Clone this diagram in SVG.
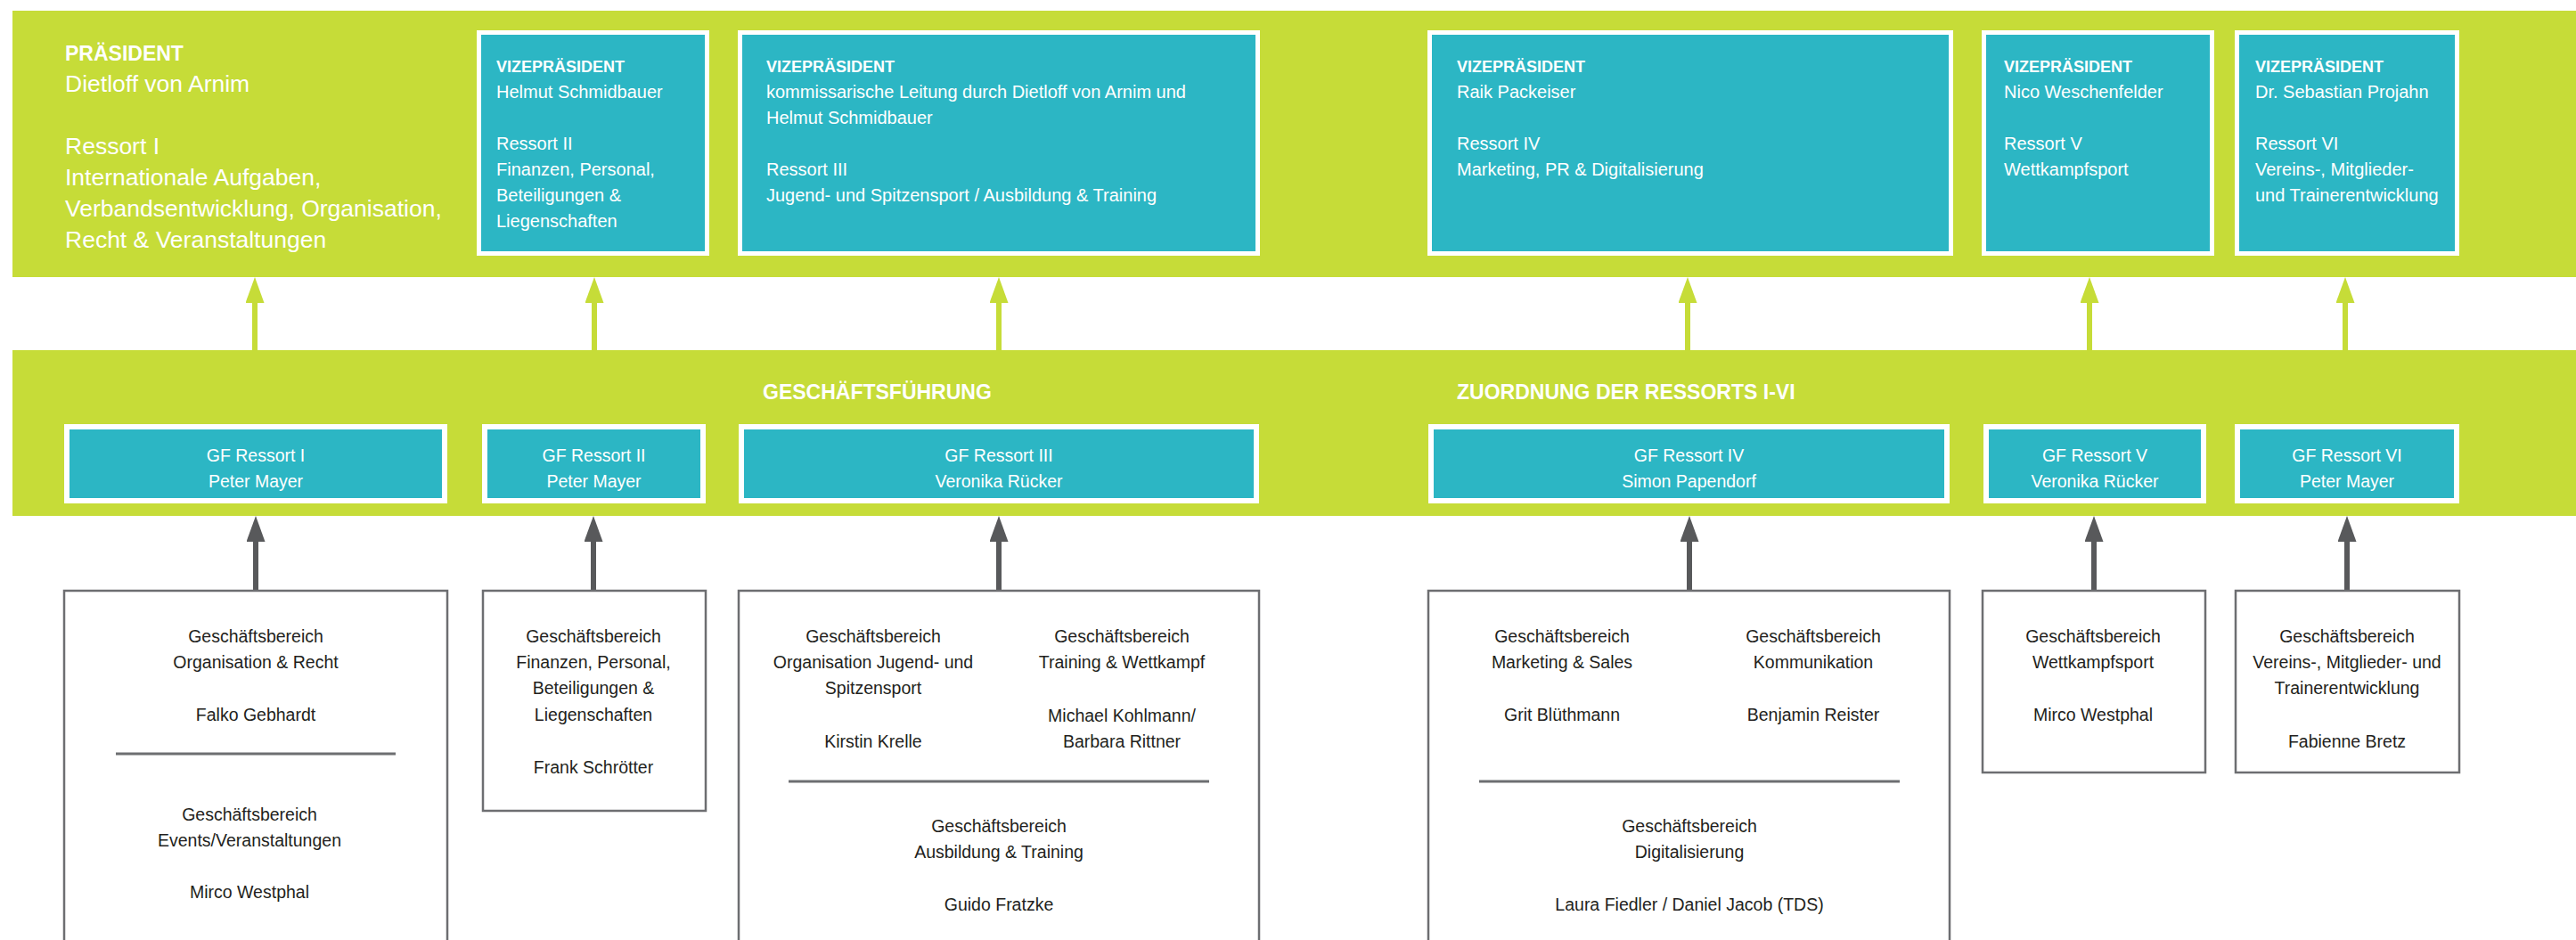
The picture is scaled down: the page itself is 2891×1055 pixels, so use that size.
<svg xmlns="http://www.w3.org/2000/svg" width="2891" height="1055" viewBox="0 0 2891 1055">
<style>
text{font-family:"Liberation Sans",Arial,sans-serif}
.band{fill:#c6dc38}
.vpbox{fill:#2cb6c4;stroke:#fff;stroke-width:5}
.gfbox{fill:#2cb6c4;stroke:#fff;stroke-width:6}
.gbox{fill:#fff;stroke:#6d6e71;stroke-width:2.5}
.div{stroke:#6d6e71;stroke-width:3}
.tl{font-size:26.5px;fill:#fff}
.tlb{font-size:23px;font-weight:bold;fill:#fff}
.vpt{font-size:18px;font-weight:bold;fill:#fff}
.vp{font-size:20px;fill:#fff}
.gf{font-size:19.5px;fill:#fff;text-anchor:middle}
.hd{font-size:23px;font-weight:bold;fill:#fff}
.bx{font-size:19.5px;fill:#231f20;text-anchor:middle}
.ga{stroke:#c6dc38;stroke-width:6;marker-end:url(#hg)}
.da{stroke:#58595b;stroke-width:6;marker-end:url(#hd)}
</style>
<defs>
<marker id="hg" markerUnits="userSpaceOnUse" viewBox="0 0 29 21" refX="0" refY="10.5" markerWidth="29" markerHeight="21" orient="auto"><path d="M0,0 L29,10.5 L0,21 z" fill="#c6dc38"/></marker>
<marker id="hd" markerUnits="userSpaceOnUse" viewBox="0 0 29 21" refX="0" refY="10.5" markerWidth="29" markerHeight="21" orient="auto"><path d="M0,0 L29,10.5 L0,21 z" fill="#58595b"/></marker>
</defs>
<rect width="2891" height="1055" fill="#fff"/>
<rect id="band-top" class="band" x="14" y="12" width="2877" height="299"/>
<rect id="band-mid" class="band" x="14" y="393" width="2877" height="186"/>

<g id="connectors">
<line class="ga" x1="286" y1="393" x2="286" y2="340"/>
<line class="ga" x1="667" y1="393" x2="667" y2="340"/>
<line class="ga" x1="1121" y1="393" x2="1121" y2="340"/>
<line class="ga" x1="1894" y1="393" x2="1894" y2="340"/>
<line class="ga" x1="2345" y1="393" x2="2345" y2="340"/>
<line class="ga" x1="2632" y1="393" x2="2632" y2="340"/>
<line class="da" x1="287" y1="663" x2="287" y2="608"/>
<line class="da" x1="666" y1="663" x2="666" y2="608"/>
<line class="da" x1="1121" y1="663" x2="1121" y2="608"/>
<line class="da" x1="1896" y1="663" x2="1896" y2="608"/>
<line class="da" x1="2350" y1="663" x2="2350" y2="608"/>
<line class="da" x1="2634" y1="663" x2="2634" y2="608"/>
</g>

<g id="praesident">
<text class="tlb" x="73" y="68">PRÄSIDENT</text>
<text class="tl" x="73" y="103">Dietloff von Arnim</text>
<text class="tl" x="73" y="173">Ressort I</text>
<text class="tl" x="73" y="208">Internationale Aufgaben,</text>
<text class="tl" x="73" y="243">Verbandsentwicklung, Organisation,</text>
<text class="tl" x="73" y="278">Recht &amp; Veranstaltungen</text>
</g>

<g id="vp-ressort2">
<rect class="vpbox" x="537.5" y="36.5" width="256" height="248"/>
<text class="vpt" x="557" y="81">VIZEPRÄSIDENT</text>
<text class="vp" x="557" y="110">Helmut Schmidbauer</text>
<text class="vp" x="557" y="168">Ressort II</text>
<text class="vp" x="557" y="197">Finanzen, Personal,</text>
<text class="vp" x="557" y="226">Beteiligungen &amp;</text>
<text class="vp" x="557" y="255">Liegenschaften</text>
</g>

<g id="vp-ressort3">
<rect class="vpbox" x="830.5" y="36.5" width="581" height="248"/>
<text class="vpt" x="860" y="81">VIZEPRÄSIDENT</text>
<text class="vp" x="860" y="110">kommissarische Leitung durch Dietloff von Arnim und</text>
<text class="vp" x="860" y="139">Helmut Schmidbauer</text>
<text class="vp" x="860" y="197">Ressort III</text>
<text class="vp" x="860" y="226">Jugend- und Spitzensport / Ausbildung &amp; Training</text>
</g>

<g id="vp-ressort4">
<rect class="vpbox" x="1604.5" y="36.5" width="585" height="248"/>
<text class="vpt" x="1635" y="81">VIZEPRÄSIDENT</text>
<text class="vp" x="1635" y="110">Raik Packeiser</text>
<text class="vp" x="1635" y="168">Ressort IV</text>
<text class="vp" x="1635" y="197">Marketing, PR &amp; Digitalisierung</text>
</g>

<g id="vp-ressort5">
<rect class="vpbox" x="2226.5" y="36.5" width="256" height="248"/>
<text class="vpt" x="2249" y="81">VIZEPRÄSIDENT</text>
<text class="vp" x="2249" y="110">Nico Weschenfelder</text>
<text class="vp" x="2249" y="168">Ressort V</text>
<text class="vp" x="2249" y="197">Wettkampfsport</text>
</g>

<g id="vp-ressort6">
<rect class="vpbox" x="2510.5" y="36.5" width="247" height="248"/>
<text class="vpt" x="2531" y="81">VIZEPRÄSIDENT</text>
<text class="vp" x="2531" y="110">Dr. Sebastian Projahn</text>
<text class="vp" x="2531" y="168">Ressort VI</text>
<text class="vp" x="2531" y="197">Vereins-, Mitglieder-</text>
<text class="vp" x="2531" y="226">und Trainerentwicklung</text>
</g>

<g id="heading-gf">
<text class="hd" x="856" y="448">GESCHÄFTSFÜHRUNG</text>
</g>
<g id="heading-zuordnung">
<text class="hd" x="1635" y="448">ZUORDNUNG DER RESSORTS I-VI</text>
</g>

<g id="gf1">
<rect class="gfbox" x="75" y="479" width="424" height="83"/>
<text class="gf" x="287" y="518">GF Ressort I</text>
<text class="gf" x="287" y="547">Peter Mayer</text>
</g>
<g id="gf2">
<rect class="gfbox" x="544" y="479" width="245" height="83"/>
<text class="gf" x="666.5" y="518">GF Ressort II</text>
<text class="gf" x="666.5" y="547">Peter Mayer</text>
</g>
<g id="gf3">
<rect class="gfbox" x="832" y="479" width="578" height="83"/>
<text class="gf" x="1121" y="518">GF Ressort III</text>
<text class="gf" x="1121" y="547">Veronika Rücker</text>
</g>
<g id="gf4">
<rect class="gfbox" x="1606" y="479" width="579" height="83"/>
<text class="gf" x="1895.5" y="518">GF Ressort IV</text>
<text class="gf" x="1895.5" y="547">Simon Papendorf</text>
</g>
<g id="gf5">
<rect class="gfbox" x="2229" y="479" width="244" height="83"/>
<text class="gf" x="2351" y="518">GF Ressort V</text>
<text class="gf" x="2351" y="547">Veronika Rücker</text>
</g>
<g id="gf6">
<rect class="gfbox" x="2511" y="479" width="246" height="83"/>
<text class="gf" x="2634" y="518">GF Ressort VI</text>
<text class="gf" x="2634" y="547">Peter Mayer</text>
</g>

<g id="gb1">
<rect class="gbox" x="72" y="663" width="430" height="420"/>
<text class="bx" x="287" y="721">Geschäftsbereich</text>
<text class="bx" x="287" y="750">Organisation &amp; Recht</text>
<text class="bx" x="287" y="809">Falko Gebhardt</text>
<line class="div" x1="130" y1="846" x2="444" y2="846"/>
<text class="bx" x="280" y="921">Geschäftsbereich</text>
<text class="bx" x="280" y="950">Events/Veranstaltungen</text>
<text class="bx" x="280" y="1008">Mirco Westphal</text>
</g>

<g id="gb2">
<rect class="gbox" x="542" y="663" width="250" height="247"/>
<text class="bx" x="666" y="721">Geschäftsbereich</text>
<text class="bx" x="666" y="750">Finanzen, Personal,</text>
<text class="bx" x="666" y="779">Beteiligungen &amp;</text>
<text class="bx" x="666" y="809">Liegenschaften</text>
<text class="bx" x="666" y="868">Frank Schrötter</text>
</g>

<g id="gb3">
<rect class="gbox" x="829" y="663" width="584" height="420"/>
<text class="bx" x="980" y="721">Geschäftsbereich</text>
<text class="bx" x="980" y="750">Organisation Jugend- und</text>
<text class="bx" x="980" y="779">Spitzensport</text>
<text class="bx" x="980" y="839">Kirstin Krelle</text>
<text class="bx" x="1259" y="721">Geschäftsbereich</text>
<text class="bx" x="1259" y="750">Training &amp; Wettkampf</text>
<text class="bx" x="1259" y="810">Michael Kohlmann/</text>
<text class="bx" x="1259" y="839">Barbara Rittner</text>
<line class="div" x1="885" y1="877" x2="1357" y2="877"/>
<text class="bx" x="1121" y="934">Geschäftsbereich</text>
<text class="bx" x="1121" y="963">Ausbildung &amp; Training</text>
<text class="bx" x="1121" y="1022">Guido Fratzke</text>
</g>

<g id="gb4">
<rect class="gbox" x="1603" y="663" width="585" height="420"/>
<text class="bx" x="1753" y="721">Geschäftsbereich</text>
<text class="bx" x="1753" y="750">Marketing &amp; Sales</text>
<text class="bx" x="1753" y="809">Grit Blüthmann</text>
<text class="bx" x="2035" y="721">Geschäftsbereich</text>
<text class="bx" x="2035" y="750">Kommunikation</text>
<text class="bx" x="2035" y="809">Benjamin Reister</text>
<line class="div" x1="1660" y1="877" x2="2132" y2="877"/>
<text class="bx" x="1896" y="934">Geschäftsbereich</text>
<text class="bx" x="1896" y="963">Digitalisierung</text>
<text class="bx" x="1896" y="1022">Laura Fiedler / Daniel Jacob (TDS)</text>
</g>

<g id="gb5">
<rect class="gbox" x="2225" y="663" width="250" height="204"/>
<text class="bx" x="2349" y="721">Geschäftsbereich</text>
<text class="bx" x="2349" y="750">Wettkampfsport</text>
<text class="bx" x="2349" y="809">Mirco Westphal</text>
</g>

<g id="gb6">
<rect class="gbox" x="2509" y="663" width="251" height="204"/>
<text class="bx" x="2634" y="721">Geschäftsbereich</text>
<text class="bx" x="2634" y="750">Vereins-, Mitglieder- und</text>
<text class="bx" x="2634" y="779">Trainerentwicklung</text>
<text class="bx" x="2634" y="839">Fabienne Bretz</text>
</g>
</svg>
